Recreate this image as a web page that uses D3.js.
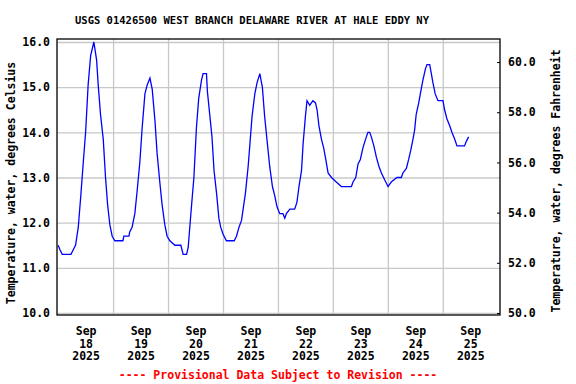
<!DOCTYPE html>
<html>
<head>
<meta charset="utf-8">
<script src="https://cdn.jsdelivr.net/npm/d3@7"></script>
<style>
  body { margin: 0; background: #fff; }
  text { font-family: "DejaVu Sans Mono", monospace; font-weight: bold; }
</style>
</head>
<body>
<div id="vis"></div>
<script>
// USGS water temperature plot, Sep 18 - Sep 25 2025

const FRAME_WIDTH = 576;
const FRAME_HEIGHT = 384;
const MARGINS = {left: 57, right: 76, top: 39, bottom: 69};

const VIS_WIDTH = FRAME_WIDTH - MARGINS.left - MARGINS.right;
const VIS_HEIGHT = FRAME_HEIGHT - MARGINS.top - MARGINS.bottom;

const TITLE = "USGS 01426500 WEST BRANCH DELAWARE RIVER AT HALE EDDY NY";
const LEFT_LABEL = "Temperature, water, degrees Celsius";
const RIGHT_LABEL = "Temperature, water, degrees Fahrenheit";
const NOTE = "---- Provisional Data Subject to Revision ----";

// data: hours after Sep 18 2025 00:00, and deg C
const HOURS = [0.0, 0.8, 1.8, 5.6, 6.6, 7.6, 8.8, 9.9, 11.0, 12.0, 13.1, 14.2, 15.6, 16.8,
  17.5, 18.5, 19.7, 20.7, 21.6, 22.6, 23.6, 24.8, 28.3, 28.7, 30.9, 31.3, 32.3, 33.5,
  34.5, 35.7, 36.7, 37.9, 38.9, 40.1, 41.1, 42.3, 43.2, 44.4, 45.4, 46.6, 47.6, 48.8,
  51.0, 52.3, 53.6, 54.6, 56.1, 56.8, 57.5, 58.3, 59.3, 60.4, 61.4, 62.6, 63.3, 64.8,
  65.2, 66.2, 67.2, 68.1, 69.2, 70.2, 71.0, 72.0, 73.5, 76.9, 77.9, 79.0, 80.1, 80.8,
  81.8, 83.0, 83.7, 84.7, 85.9, 86.9, 88.1, 89.2, 90.2, 91.4, 92.4, 93.6, 94.6, 95.6,
  96.8, 98.2, 99.0, 99.7, 101.2, 103.3, 104.3, 105.2, 106.3, 107.0, 108.0, 108.7, 109.9,
  111.3, 112.4, 113.1, 113.9, 115.0, 116.0, 116.9, 117.9, 119.4, 121.5, 123.7, 128.1,
  128.8, 130.0, 131.0, 132.0, 133.1, 134.3, 135.3, 136.1, 136.8, 137.9, 139.0, 140.1,
  141.2, 142.6, 144.1, 145.5, 148.0, 149.9, 150.6, 152.1, 153.1, 154.0, 155.0, 155.7,
  156.4, 157.5, 158.2, 159.3, 160.4, 161.1, 162.3, 163.0, 163.7, 164.7, 165.9, 168.1,
  168.8, 169.8, 171.0, 172.0, 173.2, 174.2, 177.5, 178.3, 179.3];
const TEMPS = [11.5, 11.4, 11.3, 11.3, 11.4, 11.5, 11.9, 12.6, 13.35, 14.0, 15.05, 15.7, 16.0, 15.6,
  15.05, 14.4, 13.85, 13.0, 12.4, 11.95, 11.7, 11.6, 11.6, 11.7, 11.7, 11.8, 11.9, 12.2,
  12.7, 13.35, 14.1, 14.85, 15.05, 15.2, 14.95, 14.25, 13.55, 12.9, 12.4, 11.95, 11.7, 11.6,
  11.5, 11.5, 11.5, 11.3, 11.3, 11.45, 11.9, 12.4, 13.0, 14.1, 14.75, 15.15, 15.3, 15.3,
  14.9, 14.4, 13.9, 13.15, 12.65, 12.1, 11.9, 11.75, 11.6, 11.6, 11.7, 11.9, 12.05, 12.3,
  12.65, 13.25, 13.7, 14.35, 14.85, 15.1, 15.3, 15.0, 14.35, 13.75, 13.25, 12.8, 12.6, 12.35,
  12.2, 12.2, 12.1, 12.2, 12.3, 12.3, 12.45, 12.8, 13.15, 13.75, 14.35, 14.7, 14.6,
  14.7, 14.65, 14.5, 14.15, 13.85, 13.65, 13.4, 13.1, 13.0, 12.9, 12.8, 12.8,
  12.9, 13.0, 13.3, 13.4, 13.65, 13.85, 14.0, 14.0, 13.9, 13.7, 13.45, 13.25,
  13.1, 12.95, 12.8, 12.9, 13.0, 13.0, 13.1, 13.2, 13.4, 13.6, 13.85, 14.05,
  14.4, 14.65, 14.85, 15.15, 15.4, 15.5, 15.5, 15.3, 15.1, 14.85, 14.7, 14.7,
  14.5, 14.3, 14.15, 14.0, 13.85, 13.7, 13.7, 13.8, 13.9];

const DAYS = [18, 19, 20, 21, 22, 23, 24, 25];
const C_TICKS = [10, 11, 12, 13, 14, 15, 16];
const F_TICKS = [50, 52, 54, 56, 58, 60];

const START = new Date(2025, 8, 18, 0, 0);
const data = HOURS.map((h, i) => ({t: d3.timeMinute.offset(START, Math.round(h * 60)), c: TEMPS[i]}));

const FRAME1 = d3.select("#vis")
                  .append("svg")
                    .attr("width", FRAME_WIDTH)
                    .attr("height", FRAME_HEIGHT);

const X_SCALE = d3.scaleTime()
                    .domain([new Date(2025, 8, 17, 23, 30), new Date(2025, 8, 26, 1, 0)])
                    .range([0, VIS_WIDTH]);

const C_MIN = 9.956, C_MAX = 16.066;
const Y_SCALE = d3.scaleLinear()
                    .domain([C_MIN, C_MAX])
                    .range([VIS_HEIGHT, 0]);

const F_SCALE = d3.scaleLinear()
                    .domain([C_MIN * 1.8 + 32, C_MAX * 1.8 + 32])
                    .range([VIS_HEIGHT, 0]);

const G = FRAME1.append("g")
                  .attr("transform", "translate(" + MARGINS.left + "," + MARGINS.top + ")");

// horizontal grid + celsius labels
const leftAxis = G.append("g")
    .call(d3.axisLeft(Y_SCALE).tickValues(C_TICKS).tickSize(-VIS_WIDTH)
          .tickPadding(7).tickFormat(d3.format(".1f")));
leftAxis.select(".domain").remove();
leftAxis.selectAll("line").attr("stroke", "#c8c8c8").attr("stroke-width", 1.3);
leftAxis.selectAll("text").attr("font-size", "11.5px").attr("fill", "#000");

// vertical grid at midnight
const midnights = DAYS.slice(1).map(d => new Date(2025, 8, d, 0, 0));
const gridX = G.append("g")
    .attr("transform", "translate(0," + VIS_HEIGHT + ")")
    .call(d3.axisBottom(X_SCALE).tickValues(midnights).tickSize(-VIS_HEIGHT).tickFormat(""));
gridX.select(".domain").remove();
gridX.selectAll("line").attr("stroke", "#c8c8c8").attr("stroke-width", 1.3);

// date labels at noon
const noons = DAYS.map(d => new Date(2025, 8, d, 12, 0));
const bottomAxis = G.append("g")
    .attr("transform", "translate(0," + VIS_HEIGHT + ")")
    .call(d3.axisBottom(X_SCALE).tickValues(noons).tickSize(0).tickFormat(""));
bottomAxis.select(".domain").remove();
bottomAxis.selectAll(".tick").each(function(d) {
    const t = d3.select(this).append("text")
        .attr("fill", "#000")
        .attr("font-size", "11.5px")
        .attr("text-anchor", "middle");
    ["Sep", String(d.getDate()), "2025"].forEach((s, i) => {
        t.append("tspan").attr("x", 0).attr("y", 20 + i * 12.7).text(s);
    });
});

// the temperature line
const line = d3.line()
    .x(d => X_SCALE(d.t))
    .y(d => Y_SCALE(d.c));

G.append("path")
    .datum(data)
    .attr("d", line)
    .attr("fill", "none")
    .attr("stroke", "#0000ff")
    .attr("stroke-width", 1.3);

// frame
G.append("rect")
    .attr("width", VIS_WIDTH)
    .attr("height", VIS_HEIGHT)
    .attr("fill", "none")
    .attr("stroke", "#000")
    .attr("stroke-width", 1.3);

// fahrenheit axis on the right
const rightAxis = G.append("g")
    .attr("transform", "translate(" + VIS_WIDTH + ",0)")
    .call(d3.axisRight(F_SCALE).tickValues(F_TICKS).tickSizeInner(-3).tickSizeOuter(0)
          .tickPadding(8).tickFormat(d3.format(".1f")));
rightAxis.select(".domain").remove();
rightAxis.selectAll("line").attr("stroke", "#000");
rightAxis.selectAll("text").attr("font-size", "11.5px").attr("fill", "#000");

// titles
FRAME1.append("text")
    .attr("x", 252)
    .attr("y", 24)
    .attr("text-anchor", "middle")
    .attr("font-size", "10.5px")
    .text(TITLE);

FRAME1.append("text")
    .attr("transform", "translate(15,183) rotate(-90)")
    .attr("text-anchor", "middle")
    .attr("font-size", "11.5px")
    .text(LEFT_LABEL);

FRAME1.append("text")
    .attr("transform", "translate(560,181) rotate(-90)")
    .attr("text-anchor", "middle")
    .attr("font-size", "11.5px")
    .text(RIGHT_LABEL);

FRAME1.append("text")
    .attr("x", 278)
    .attr("y", 379)
    .attr("text-anchor", "middle")
    .attr("font-size", "11.5px")
    .attr("fill", "#ff0000")
    .text(NOTE);
</script>
</body>
</html>
